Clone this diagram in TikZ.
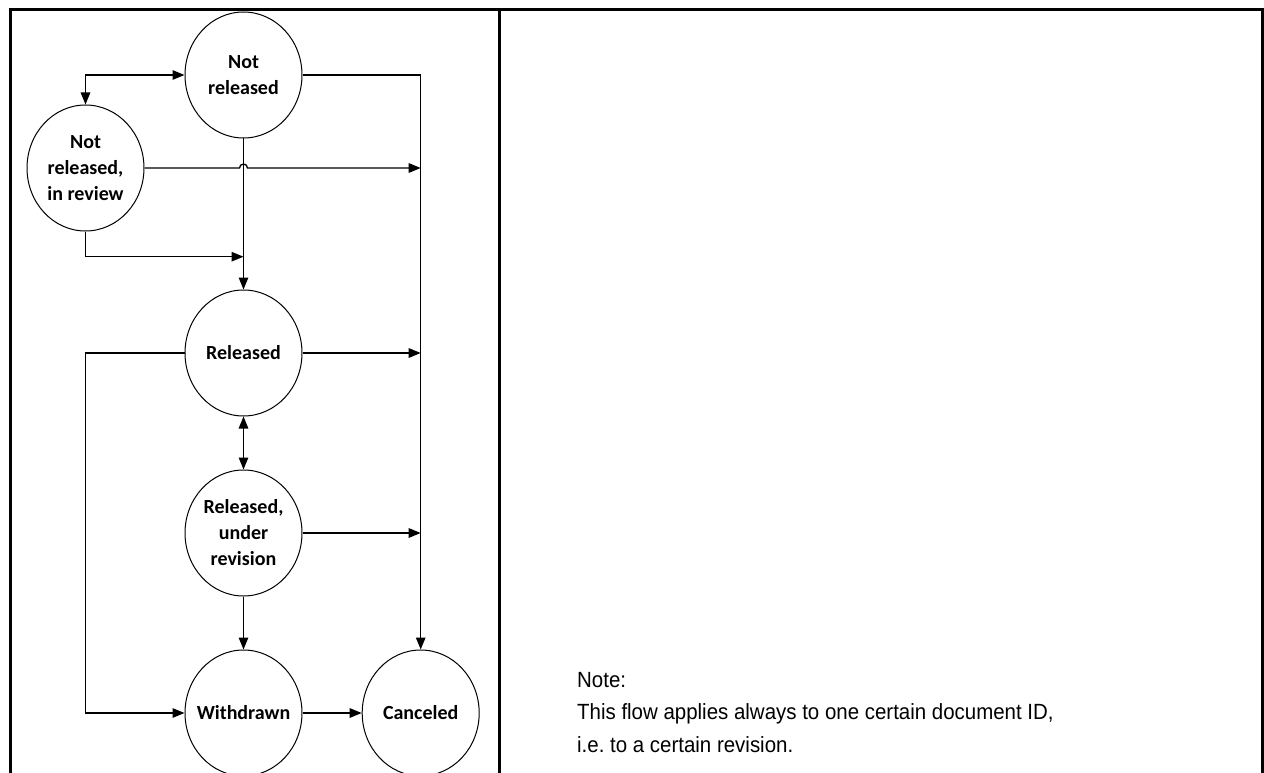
\documentclass[tikz,border=0pt]{standalone}
\usepackage{fontspec}
\setmainfont{Carlito}
\newfontfamily\notefont{Liberation Sans}
\usetikzlibrary{shapes.geometric,arrows.meta}
\begin{document}
\frenchspacing
\begin{tikzpicture}[x=1pt,y=-1pt,
  state/.style={ellipse,draw,line width=1pt,minimum width=117pt,minimum height=126pt,inner sep=0pt,
    label={[align=center,inner sep=0pt,font=\bfseries\fontsize{20}{26}\selectfont]center:#1}},
  conn/.style={line width=1.3pt,-{Triangle[length=12pt,width=9.5pt]}},
  dconn/.style={line width=1.3pt,{Triangle[length=12pt,width=9.5pt]}-{Triangle[length=12pt,width=9.5pt]}},
  frame/.style={line width=3pt}]
\useasboundingbox (0,0) rectangle (1264,773);
% frame
\draw[frame] (10,800) -- (10,9.7) -- (1262,9.7) -- (1262,800);
\draw[frame] (499,9.7) -- (499,800);
% states
\node[state={Not\\released}] (nr) at (243.5,75) {};
\node[state={Not\\released,\\in review}] (nrr) at (85.5,168) {};
\node[state={Released}] (rel) at (243.5,353) {};
\node[state={Released,\\under\\revision}] (rev) at (243.5,533) {};
\node[state={Withdrawn}] (wd) at (243.5,713) {};
\node[state={Canceled}] (can) at (420.7,713) {};
% coordinates
\coordinate (cx) at (420.7,0);
\coordinate (lx) at (85.7,0);
% connectors
\draw[dconn] (nrr.north) |- (nr.west);
\draw[conn] (nr.east) -| (can.north);
\draw[conn] (nrr.east) -- (239.5,168) arc (180:360:4) -- (nrr.east -| cx);
\draw[conn] (nrr.south) |- (243.5,256.7);
\draw[conn] (nr.south) -- (rel.north);
\draw[conn] (rel.west) -| (lx |- wd.west) -- (wd.west);
\draw[conn] (rel.east) -- (rel.east -| cx);
\draw[dconn] (rel.south) -- (rev.north);
\draw[conn] (rev.east) -- (rev.east -| cx);
\draw[conn] (rev.south) -- (wd.north);
\draw[conn] (wd.east) -- (can.west);
% note
\node[anchor=base west,align=left,inner sep=0pt,font=\notefont\fontsize{22}{32.5}\selectfont,xscale=0.93] (note) at (577,752)
  {Note:\\This flow applies always to one certain document ID,\\i.e. to a certain revision.};
\end{tikzpicture}
\end{document}
